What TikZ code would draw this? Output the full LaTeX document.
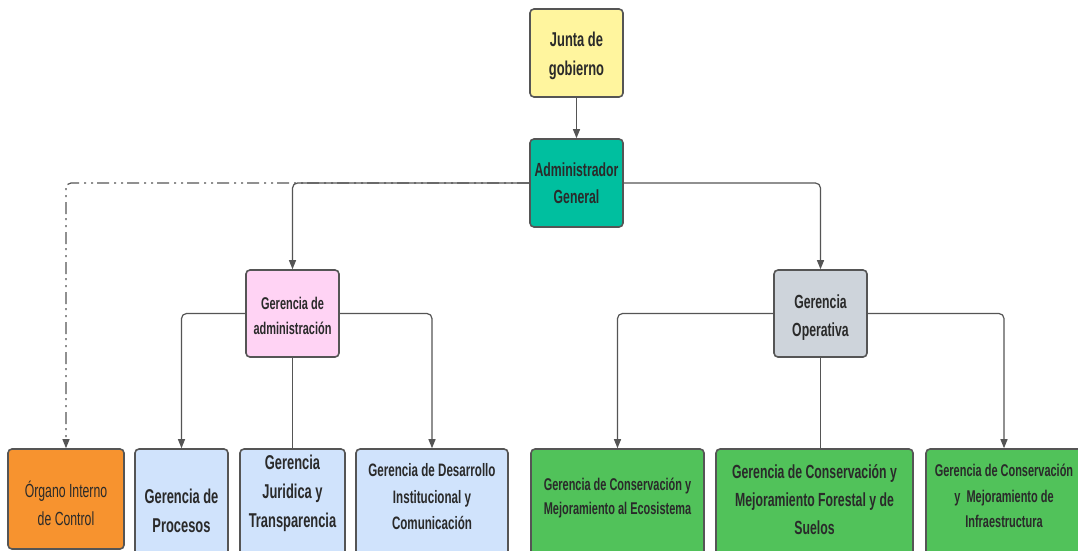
\documentclass[tikz,border=0pt]{standalone}
\usepackage{fontspec}
\setmainfont{Liberation Sans}[FakeStretch=0.645]
\usetikzlibrary{arrows.meta}
\definecolor{edgec}{HTML}{555555}
\definecolor{txtc}{HTML}{2A2A2A}
\definecolor{cjunta}{HTML}{FFF59E}
\definecolor{cadmin}{HTML}{00BF9F}
\definecolor{cga}{HTML}{FFD3F4}
\definecolor{cgo}{HTML}{CED4DB}
\definecolor{cblue}{HTML}{D0E3FC}
\definecolor{corange}{HTML}{F7932F}
\definecolor{cgreen}{HTML}{51C25A}
\begin{document}
\begin{tikzpicture}[x=1pt,y=-1pt,
  box/.style={draw=edgec, line width=1.6pt, rounded corners=4pt, inner sep=0pt, text=txtc, align=center},
  lbl/.style={text=txtc, align=center, inner sep=0pt},
  conn/.style={draw=edgec, line width=1.2pt, rounded corners=5pt},
  arr/.style={conn, -{Triangle[length=9pt,width=7pt]}},
  dashdot/.style={dash pattern=on 12pt off 4pt on 2pt off 5pt on 2pt off 5pt}
]
\useasboundingbox (0,0) rectangle (1078,550);
\fill[white] (0,0) rectangle (1078,550);

% top boxes
\node (junta) [box, fill=cjunta, minimum width=93, minimum height=88,
  label={[lbl, yshift=-3pt, font=\fontsize{20}{29}\selectfont\bfseries]center:{Junta de\\gobierno}}] at (576.5,53) {};
\node (admin) [box, fill=cadmin, minimum width=93, minimum height=88,
  font=\fontsize{19}{27}\selectfont\bfseries] at (576.5,183) {Administrador\\General};
\node (ga) [box, fill=cga, minimum width=93, minimum height=87,
  label={[lbl, yshift=-2pt, font=\fontsize{17}{25}\selectfont\bfseries]center:{Gerencia de\\administración}}] at (292.5,313.5) {};
\node (go) [box, fill=cgo, minimum width=93, minimum height=87,
  label={[lbl, yshift=-4pt, font=\fontsize{19}{28}\selectfont\bfseries]center:{Gerencia\\Operativa}}] at (820.5,313.5) {};

% bottom boxes
\node (organo) [box, fill=corange, minimum width=116, minimum height=100,
  label={[lbl, yshift=-4pt, font=\fontsize{19}{28}\selectfont]center:{Órgano Interno\\de Control}}] at (66,499) {};
\node (proc) [box, fill=cblue, minimum width=93, minimum height=124,
  label={[lbl, font=\fontsize{20}{29}\selectfont\bfseries]center:{Gerencia de\\Procesos}}] at (181.5,511) {};
\node (jur) [box, fill=cblue, minimum width=105, minimum height=124,
  label={[lbl, yshift=18pt, font=\fontsize{20}{29}\selectfont\bfseries]center:{Gerencia\\Juridica y\\Transparencia}}] at (292.5,511) {};
\node (des) [box, fill=cblue, minimum width=152, minimum height=124,
  label={[lbl, yshift=14pt, font=\fontsize{18}{26.5}\selectfont\bfseries]center:{Gerencia de Desarrollo\\Institucional y\\Comunicación}}] at (432,511) {};
\node (eco) [box, fill=cgreen, minimum width=173, minimum height=124,
  label={[lbl, yshift=13pt, font=\fontsize{17}{24.5}\selectfont\bfseries]center:{Gerencia de Conservación y\\Mejoramiento al Ecosistema}}] at (617.5,511) {};
\node (for) [box, fill=cgreen, minimum width=197, minimum height=124,
  label={[lbl, yshift=11pt, font=\fontsize{19}{28}\selectfont\bfseries]center:{Gerencia de Conservación y\\Mejoramiento Forestal y de\\Suelos}}] at (814.5,511) {};
\node (inf) [box, fill=cgreen, minimum width=156, minimum height=124,
  label={[lbl, yshift=15pt, font=\fontsize{17}{25.5}\selectfont\bfseries]center:{Gerencia de Conservación\\y~ Mejoramiento de\\Infraestructura}}] at (1004,511) {};

% connectors
\draw[arr] (junta) -- (admin);
\draw[arr, dashdot] (admin.west) -| (organo.north);
\draw[arr] (admin.west) -| (ga.north);
\draw[arr] (admin.east) -| (go.north);
\draw[arr] (ga.west) -| (proc.north);
\draw[arr] (ga.east) -| (des.north);
\draw[conn] (ga.south) -- (jur.north);
\draw[arr] (go.west) -| (eco.north);
\draw[arr] (go.east) -| (inf.north);
\draw[conn] (go.south) -- (go.south |- for.north);
\end{tikzpicture}
\end{document}
